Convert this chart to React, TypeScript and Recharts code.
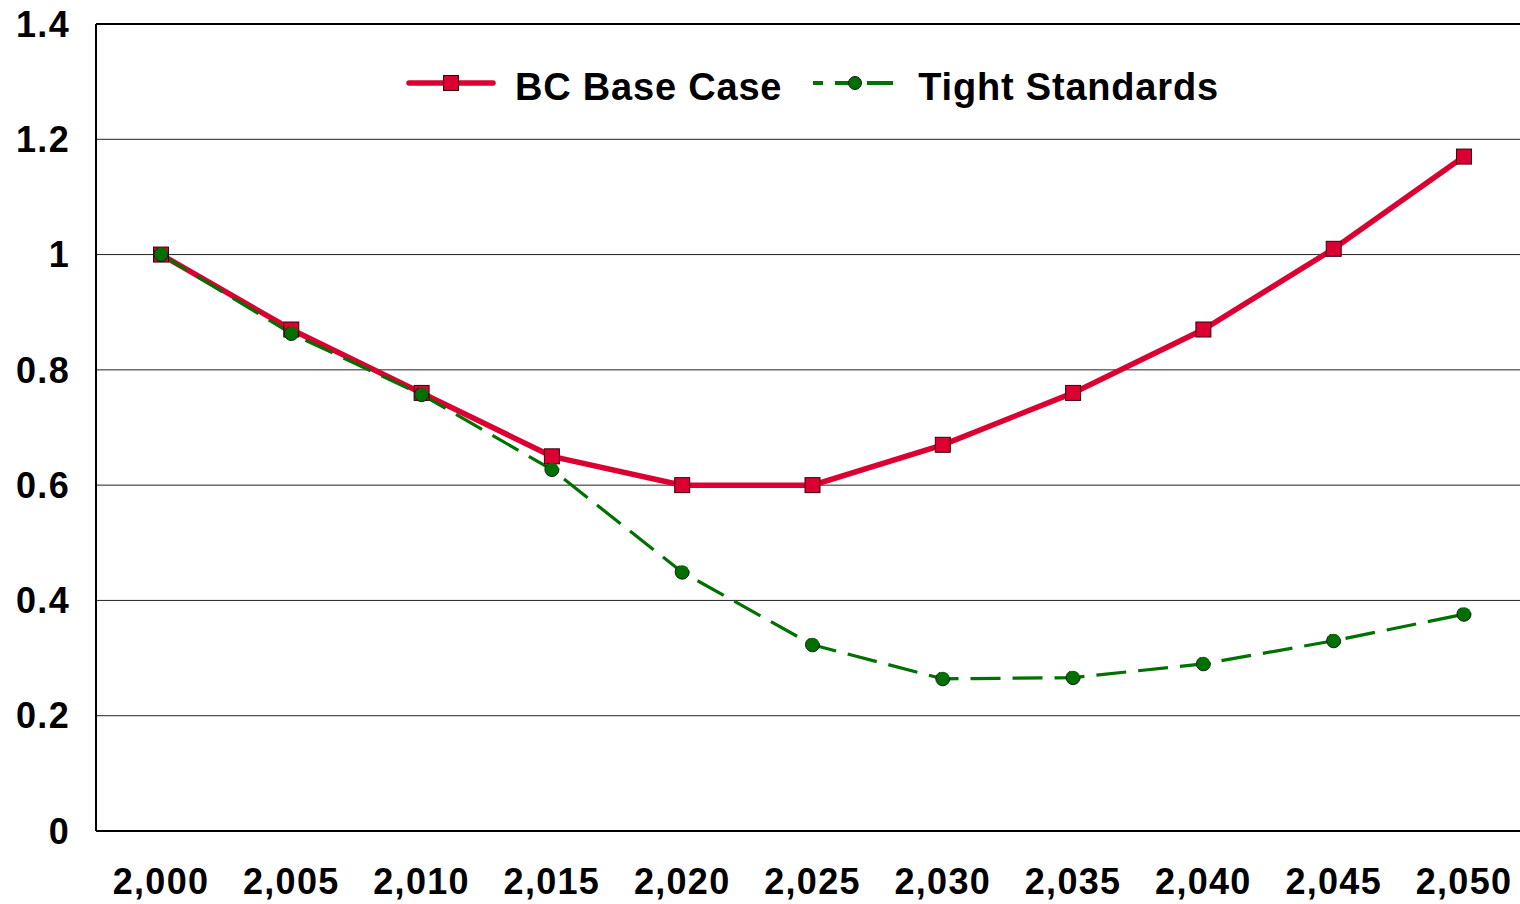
import React from 'react'
import { LineChart, Line, XAxis, YAxis, CartesianGrid, ReferenceLine } from 'recharts'

const years = [2000, 2005, 2010, 2015, 2020, 2025, 2030, 2035, 2040, 2045, 2050]
const baseCase = [1.0, 0.87, 0.76, 0.65, 0.6, 0.6, 0.67, 0.76, 0.87, 1.01, 1.17]
const tightStandards = [1.0, 0.863, 0.757, 0.627, 0.449, 0.323, 0.264, 0.266, 0.29, 0.33, 0.376]
const yTicks = [0, 0.2, 0.4, 0.6, 0.8, 1, 1.2, 1.4]
const seriesNames = ['BC Base Case', 'Tight Standards']

const data = years.map((year, i) => ({
  year,
  base: baseCase[i],
  tight: tightStandards[i],
}))

const RED = '#DC0032'
const GREEN = '#007000'
const FONT = '"Liberation Sans", Arial, sans-serif'

const tickStyle = {
  fontSize: 36,
  fontWeight: 700,
  fill: '#000',
  fontFamily: FONT,
  letterSpacing: 1.3,
}

const SquareDot = (props: any) => {
  const { cx, cy, index } = props
  if (cx == null || cy == null) return <g key={`sq-${index}`} />
  return (
    <rect
      key={`sq-${index}`}
      x={cx - 7.5}
      y={cy - 7.5}
      width={15}
      height={15}
      fill={RED}
      stroke="#3a0010"
      strokeWidth={1}
    />
  )
}

// legend drawn as an overlay so it doesn't push the plot area down
const LegendOverlay = () => (
  <div
    style={{
      position: 'absolute',
      top: 68,
      left: 406,
      display: 'flex',
      alignItems: 'flex-start',
      fontFamily: FONT,
      fontWeight: 700,
      fontSize: 38,
      lineHeight: '38px',
      letterSpacing: 0.8,
      color: '#000',
      whiteSpace: 'nowrap',
    }}
  >
    <svg width={90} height={20} style={{ marginTop: 5, marginRight: 19 }}>
      <line x1={3} y1={10} x2={87} y2={10} stroke={RED} strokeWidth={5.5} strokeLinecap="round" />
      <rect x={37.5} y={2.5} width={15} height={15} fill={RED} stroke="#3a0010" strokeWidth={1} />
    </svg>
    <span style={{ marginRight: 31 }}>{seriesNames[0]}</span>
    <svg width={86} height={20} style={{ marginTop: 5, marginRight: 19 }}>
      <line x1={0} y1={10} x2={86} y2={10} stroke={GREEN} strokeWidth={4} strokeDasharray="10 12 18 14 26" />
      <circle cx={42} cy={10} r={6.5} fill={GREEN} stroke="#1a1a1a" strokeWidth={1} />
    </svg>
    <span>{seriesNames[1]}</span>
  </div>
)

export default function App() {
  return (
    <div
      style={{
        position: 'absolute',
        left: 0,
        top: 0,
        width: 1520,
        height: 904,
        overflow: 'hidden',
        background: '#fff',
      }}
    >
      <LineChart
        width={1530}
        height={904}
        data={data}
        margin={{ top: 24, right: 1, left: 0, bottom: 0 }}
      >
        <CartesianGrid vertical={false} stroke="#222" strokeWidth={1} />
        <XAxis
          dataKey="year"
          height={73}
          padding={{ left: 65, right: 65 }}
          tickFormatter={(v: number) => v.toLocaleString('en-US')}
          tick={tickStyle}
          tickLine={false}
          tickSize={0}
          tickMargin={37}
          axisLine={{ stroke: '#000', strokeWidth: 2 }}
          interval={0}
        />
        <YAxis
          width={96}
          domain={[0, 1.4]}
          ticks={yTicks}
          tick={tickStyle}
          tickLine={false}
          tickSize={0}
          tickMargin={26}
          axisLine={{ stroke: '#000', strokeWidth: 2 }}
          interval={0}
        />
        <ReferenceLine y={1.4} stroke="#000" strokeWidth={2} />
        <Line
          dataKey="base"
          name={seriesNames[0]}
          stroke={RED}
          strokeWidth={5.5}
          dot={SquareDot}
          activeDot={false}
          isAnimationActive={false}
        />
        <Line
          dataKey="tight"
          name={seriesNames[1]}
          stroke={GREEN}
          strokeWidth={3.2}
          strokeDasharray="30 12"
          dot={{ r: 7, fill: GREEN, stroke: '#1a1a1a', strokeWidth: 1 }}
          activeDot={false}
          isAnimationActive={false}
        />
      </LineChart>
      <LegendOverlay />
    </div>
  )
}
